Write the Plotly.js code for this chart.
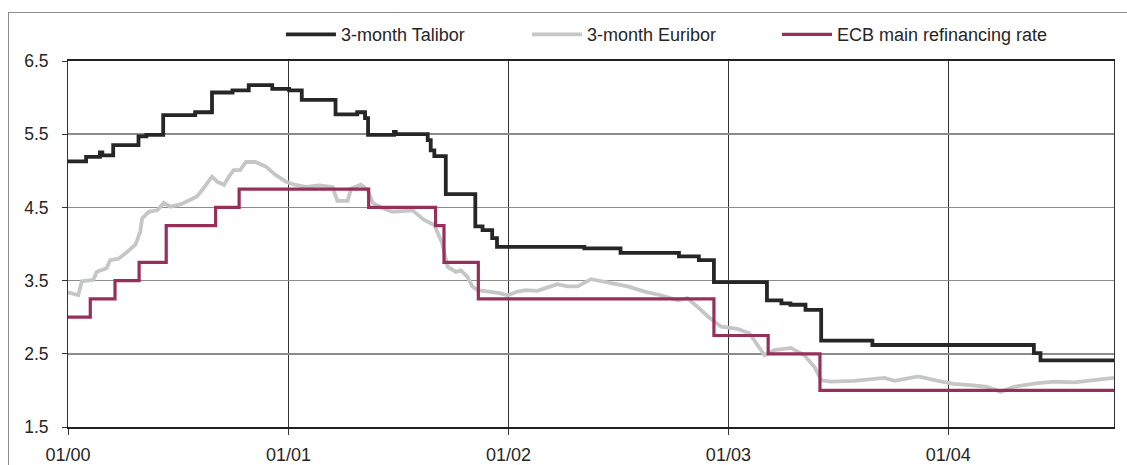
<!DOCTYPE html>
<html>
<head>
<meta charset="utf-8">
<script src="https://cdn.plot.ly/plotly-3.0.1.min.js"></script>
<style>
  html, body { margin: 0; padding: 0; background: #fff; }
  #wrap { position: relative; width: 1127px; height: 465px; overflow: hidden; }
  #chart { position: absolute; left: 0; top: 0; width: 1127px; height: 465px; }
  #frame { position: absolute; left: 8px; top: 12px; width: 1200px; height: 500px;
           border-left: 1.5px solid #8c8c8c; border-top: 1.5px solid #8c8c8c; pointer-events: none; }
</style>
</head>
<body>
<div id="wrap">
  <div id="chart"></div>
  <div id="frame"></div>
</div>
<script>
// ---- Data ----
const seriesNames = ["3-month Talibor", "3-month Euribor", "ECB main refinancing rate"];

const taliborDates = [
  "2000-01-01","2000-01-31","2000-02-23","2000-02-27","2000-03-16","2000-04-27","2000-05-10",
  "2000-06-07","2000-07-30","2000-08-27","2000-09-30","2000-10-27","2000-12-05",
  "2001-01-02","2001-01-23","2001-03-20","2001-04-25","2001-05-08","2001-05-13","2001-06-25",
  "2001-06-28","2001-08-20","2001-08-25","2001-08-31","2001-09-19","2001-11-07","2001-11-19",
  "2001-12-05","2001-12-13","2002-05-07","2002-07-06","2002-10-11","2002-11-13","2002-12-08",
  "2003-03-06","2003-03-30","2003-04-14","2003-05-09","2003-06-04","2003-08-28",
  "2004-05-22","2004-06-02","2004-10-02"
];
const taliborValues = [
  5.13,5.19,5.25,5.21,5.35,5.47,5.49,
  5.76,5.80,6.07,6.10,6.17,6.12,
  6.10,5.97,5.77,5.80,5.72,5.49,5.53,
  5.50,5.42,5.28,5.20,4.68,4.24,4.19,
  4.08,3.96,3.94,3.88,3.83,3.78,3.48,
  3.23,3.19,3.17,3.10,2.68,2.62,
  2.51,2.41,2.41
];

const euriborDates = [
  "2000-01-01","2000-01-18","2000-01-24","2000-02-12","2000-02-18","2000-03-05","2000-03-11",
  "2000-03-25","2000-04-08","2000-04-22","2000-04-30","2000-05-03","2000-05-14","2000-05-28",
  "2000-06-08","2000-06-19","2000-07-06","2000-07-19","2000-08-02","2000-08-11","2000-08-19",
  "2000-08-27","2000-09-05","2000-09-16","2000-09-24","2000-10-02","2000-10-13","2000-10-22",
  "2000-11-07","2000-11-24","2000-12-11","2000-12-28",
  "2001-01-11","2001-01-30","2001-02-21","2001-03-15","2001-03-23","2001-04-09","2001-04-15",
  "2001-05-01","2001-05-12","2001-05-21","2001-06-06","2001-06-22","2001-07-09","2001-07-26",
  "2001-08-14","2001-08-31","2001-09-13","2001-09-22","2001-10-06","2001-10-14","2001-10-25",
  "2001-11-02","2001-11-11","2001-12-03","2001-12-17","2001-12-31",
  "2002-01-16","2002-01-30","2002-02-18","2002-03-01","2002-03-23","2002-04-09","2002-04-26",
  "2002-05-18","2002-06-15","2002-07-18","2002-08-15","2002-09-11","2002-10-09","2002-10-25",
  "2002-11-11","2002-11-28","2002-12-20",
  "2003-01-16","2003-02-05","2003-02-21","2003-03-02","2003-03-18","2003-04-15","2003-05-07",
  "2003-05-24","2003-06-04","2003-06-20","2003-07-29","2003-09-17","2003-10-04","2003-11-12",
  "2003-12-15",
  "2004-01-10","2004-02-12","2004-03-05","2004-03-28","2004-04-19","2004-05-28","2004-06-25",
  "2004-07-28","2004-08-31","2004-10-02"
];
const euriborValues = [
  3.34,3.30,3.49,3.51,3.62,3.67,3.78,
  3.80,3.89,3.99,4.17,4.35,4.44,4.46,
  4.56,4.51,4.54,4.60,4.65,4.74,4.84,
  4.92,4.85,4.81,4.92,5.01,5.01,5.12,
  5.12,5.06,4.94,4.85,
  4.81,4.78,4.80,4.78,4.59,4.59,4.76,
  4.81,4.74,4.56,4.49,4.44,4.45,4.46,
  4.33,4.26,4.01,3.69,3.62,3.64,3.55,
  3.42,3.37,3.35,3.33,3.30,
  3.35,3.37,3.36,3.39,3.45,3.42,3.42,
  3.52,3.47,3.42,3.35,3.30,3.23,3.26,
  3.14,3.01,2.87,
  2.84,2.78,2.60,2.48,2.55,2.58,2.48,
  2.32,2.14,2.12,2.13,2.17,2.13,2.19,
  2.13,
  2.09,2.07,2.05,1.98,2.05,2.10,2.12,
  2.11,2.14,2.17
];

const ecbDates = [
  "2000-01-01","2000-02-07","2000-03-19","2000-04-28","2000-06-12","2000-09-02","2000-10-11",
  "2001-05-14","2001-09-02","2001-09-16","2001-11-12","2002-12-08","2003-03-08","2003-06-02",
  "2004-10-02"
];
const ecbValues = [
  3.00,3.25,3.50,3.75,4.25,4.50,4.75,
  4.50,4.25,3.75,3.25,2.75,2.50,2.00,
  2.00
];

const xTickVals = ["2000-01-01","2001-01-01","2002-01-01","2003-01-01","2004-01-01"];
const xTickText = ["01/00","01/01","01/02","01/03","01/04"];
const yTickVals = [1.5, 2.5, 3.5, 4.5, 5.5, 6.5];
const yTickText = ["1.5","2.5","3.5","4.5","5.5","6.5"];

// ---- Traces ----
const traces = [
  { x: taliborDates, y: taliborValues, name: seriesNames[0], type: "scatter", mode: "lines",
    legend: "legend", line: { color: "#262626", width: 3.8, shape: "hv" } },
  { x: euriborDates, y: euriborValues, name: seriesNames[1], type: "scatter", mode: "lines",
    legend: "legend2", line: { color: "#c5c7c7", width: 3.8 } },
  { x: ecbDates, y: ecbValues, name: seriesNames[2], type: "scatter", mode: "lines",
    legend: "legend3", line: { color: "#96305a", width: 3.2, shape: "hv" } }
];

const font = { family: "Liberation Sans, Arial, sans-serif", color: "#262626" };

function legendAt(xPaper) {
  return {
    orientation: "h", x: xPaper, xanchor: "left", y: 1.072, yanchor: "middle",
    itemwidth: 50, font: Object.assign({ size: 18 }, font), bgcolor: "rgba(0,0,0,0)"
  };
}

const layout = {
  width: 1127, height: 465,
  margin: { l: 68, r: 13, t: 61, b: 38, pad: 0, autoexpand: false },
  paper_bgcolor: "rgba(0,0,0,0)", plot_bgcolor: "#ffffff",
  font: Object.assign({ size: 18 }, font),
  showlegend: true,
  legend: legendAt(0.2036),
  legend2: legendAt(0.4388),
  legend3: legendAt(0.6778),
  xaxis: {
    type: "date", range: ["2000-01-01", "2004-10-02"],
    tickmode: "array", tickvals: xTickVals, ticktext: xTickText,
    showgrid: true, gridcolor: "#333333", gridwidth: 1,
    showline: true, linecolor: "#222222", linewidth: 2, mirror: true,
    ticks: "outside", ticklen: 6, tickcolor: "#333333", tickwidth: 1,
    ticklabelstandoff: 4,
    tickfont: Object.assign({ size: 18 }, font), zeroline: false, fixedrange: true
  },
  yaxis: {
    range: [1.5, 6.5], tickmode: "array", tickvals: yTickVals, ticktext: yTickText,
    showgrid: true, gridcolor: "#8c8c8c", gridwidth: 1.5,
    showline: true, linecolor: "#333333", linewidth: 1, mirror: true,
    ticks: "outside", ticklen: 5, tickcolor: "#333333", tickwidth: 1,
    ticklabelstandoff: 10,
    tickfont: Object.assign({ size: 17.5 }, font), zeroline: false, fixedrange: true
  },
  hovermode: false
};

Plotly.newPlot("chart", traces, layout, { displayModeBar: false, staticPlot: true });
</script>
</body>
</html>
